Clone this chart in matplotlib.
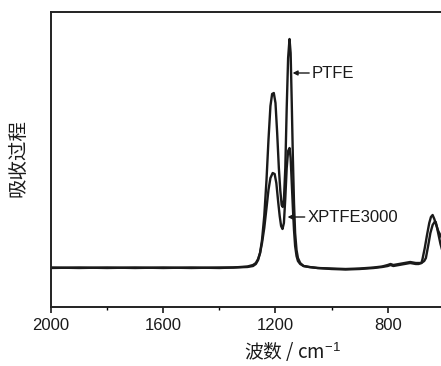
import matplotlib
matplotlib.use("Agg")
import matplotlib.pyplot as plt
from matplotlib.ticker import MultipleLocator

plt.rcParams['font.family'] = ['Liberation Sans', 'Noto Sans CJK SC', 'DejaVu Sans']
plt.rcParams['mathtext.fontset'] = 'custom'
plt.rcParams['mathtext.rm'] = 'Liberation Sans'
plt.rcParams['mathtext.it'] = 'Liberation Sans:italic'
plt.rcParams['mathtext.bf'] = 'Liberation Sans:bold'

# PTFE spectrum (wavenumber cm-1, absorbance in arbitrary units)
ptfe_wn = [2000, 1900, 1800, 1700, 1600, 1500, 1400, 1350, 1300, 1280, 1270, 1262, 1255,
           1248, 1240, 1232, 1225, 1218, 1212, 1206, 1200, 1194, 1188, 1183, 1178, 1174,
           1170, 1165, 1160, 1155, 1150, 1146, 1142, 1138, 1134, 1130, 1125, 1120, 1112,
           1100, 1080, 1050, 1000, 950, 900, 850, 820, 800, 790, 780, 760, 740, 720, 700,
           690, 680, 676, 668, 660, 652, 646, 640, 634, 628, 620, 607]
ptfe_ab = [0, 0.5, 0, 0.5, 0, 0.5, 0, 0.5, 1, 2, 4, 8, 15,
           28, 52, 88, 128, 162, 174, 175, 165, 135, 100, 78, 63, 61,
           68, 100, 160, 210, 229, 215, 165, 110, 65, 35, 18, 10, 5,
           2, 1, 0, -1, -1.5, -1, 0, 1, 2, 3, 2, 3, 4, 5, 4,
           4, 5, 9, 20, 33, 45, 51, 53, 49, 44, 37, 30]

# XPTFE3000 spectrum
xptfe_wn = [2000, 1900, 1800, 1700, 1600, 1500, 1400, 1350, 1300, 1280, 1270, 1262, 1255,
            1248, 1240, 1232, 1225, 1218, 1210, 1203, 1197, 1190, 1185, 1180, 1175,
            1170, 1165, 1160, 1155, 1150, 1146, 1142, 1138, 1134, 1130, 1125, 1120, 1112,
            1100, 1080, 1050, 1000, 950, 900, 850, 820, 800, 790, 780, 760, 740, 720, 700,
            690, 680, 670, 664, 656, 648, 640, 633, 629, 624, 618, 612, 607]
xptfe_ab = [0.5, 0, 0.5, 0, 0.5, 0, 0.5, 0.5, 1.5, 3, 5, 9, 15,
            25, 40, 60, 78, 90, 95, 94, 85, 65, 52, 42, 39,
            45, 70, 100, 117, 120, 110, 85, 60, 38, 22, 12, 7, 4,
            2, 1, 0, -0.5, -1, -0.5, 0.5, 1.5, 3, 4, 3, 4, 5, 6, 5,
            5, 5, 7, 10, 22, 35, 43, 46, 46, 40, 32, 24, 19]

x_ticks = [2000, 1600, 1200, 800]
x_tick_labels = ['2000', '1600', '1200', '800']

fig = plt.figure(figsize=(4.41, 3.66), dpi=100)
ax = fig.add_axes([51/441, 1 - 307/366, 1 - 51/441 + 0.002, (307 - 12)/366])

line_kw = dict(color='#1a1a1a', lw=1.7)
ax.plot(ptfe_wn, ptfe_ab, **line_kw)
ax.plot(xptfe_wn, xptfe_ab, **line_kw)

ax.set_xlim(2000, 607)
ax.set_ylim(-39, 256)
ax.set_xticks(x_ticks)
ax.set_xticklabels(x_tick_labels)
ax.xaxis.set_minor_locator(MultipleLocator(200))
ax.tick_params(axis='x', which='major', direction='out', length=4, width=1.2,
               labelsize=12, pad=4, colors='#1a1a1a')
ax.tick_params(axis='x', which='minor', direction='out', length=2.5, width=1.0)
ax.set_yticks([])
for s in ['left', 'bottom', 'top']:
    ax.spines[s].set_linewidth(1.4)
    ax.spines[s].set_color('#222222')
ax.spines['right'].set_visible(False)

arrow = dict(arrowstyle='-|>', color='#1a1a1a', lw=1.0, mutation_scale=7,
             shrinkA=0, shrinkB=0)
ax.annotate('PTFE', xy=(1139, 195), xytext=(1070, 195), fontsize=12,
            ha='left', va='center', arrowprops=arrow, color='#1a1a1a')
ax.annotate('XPTFE3000', xy=(1157, 51), xytext=(1086, 51), fontsize=12,
            ha='left', va='center', arrowprops=arrow, color='#1a1a1a')

fig.text(18/441, 1 - 158/366, '吸收过程', rotation=90, ha='center', va='center',
         fontsize=14, family=['Noto Sans CJK SC', 'DejaVu Sans'], color='#1a1a1a')
fig.text(292/441, 1 - 352/366, '波数 / cm$^{-1}$', ha='center', va='center',
         fontsize=13.5, family=['Noto Sans CJK SC', 'DejaVu Sans'], color='#1a1a1a')

fig.savefig('out.png', dpi=100)
